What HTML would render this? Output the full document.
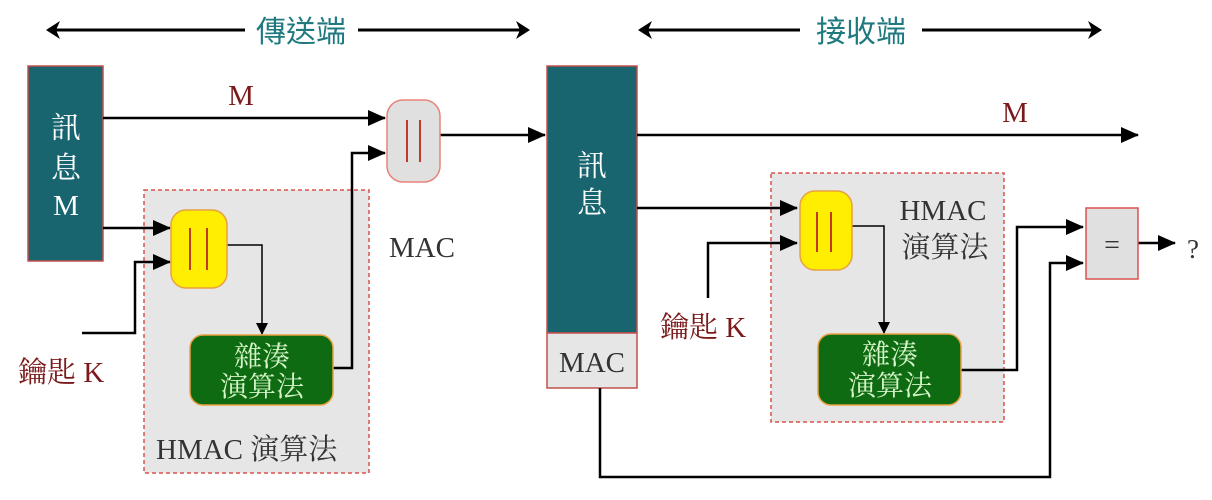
<!DOCTYPE html>
<html><head><meta charset="utf-8"><style>
html,body{margin:0;padding:0;background:#fff;width:1212px;height:500px;overflow:hidden}
svg{display:block}
text{font-family:"Liberation Serif","Noto Serif CJK SC","Noto Sans CJK TC",serif}
.cjk{font-family:"Liberation Serif","Noto Serif CJK SC",serif}
.sans{font-family:"Liberation Sans","Noto Sans CJK TC",sans-serif}
</style></head><body>
<svg width="1212" height="500" viewBox="0 0 1212 500" xmlns="http://www.w3.org/2000/svg">
<defs>
<marker id="a" markerWidth="12" markerHeight="12" refX="11" refY="6" orient="auto" markerUnits="userSpaceOnUse" viewBox="0 0 12 12"><path d="M0,0 L12,6 L0,12 Z" fill="#000"/></marker>
<marker id="b" markerWidth="18" markerHeight="16" refX="17" refY="8" orient="auto" markerUnits="userSpaceOnUse" viewBox="0 0 18 16"><path d="M0,0 L18,8 L0,16 Z" fill="#000"/></marker>
</defs>
<g stroke="#000" stroke-width="3" fill="none">
<line x1="56" y1="30" x2="245" y2="30"/><line x1="358" y1="30" x2="520" y2="30"/>
<line x1="648" y1="30" x2="800" y2="30"/><line x1="922" y1="30" x2="1092" y2="30"/>
</g>
<path d="M46,30 L60,21 L56,30 L60,39 Z M530,30 L516,21 L520,30 L516,39 Z M638,30 L652,21 L648,30 L652,39 Z M1102,30 L1088,21 L1092,30 L1088,39 Z" fill="#000"/>
<text x="301" y="42" font-size="30" fill="#1f7a80" text-anchor="middle" class="sans">傳送端</text>
<text x="861" y="42" font-size="30" fill="#1f7a80" text-anchor="middle" class="sans">接收端</text>

<rect x="144" y="190" width="225" height="283" fill="#e6e6e6" stroke="#d9534f" stroke-dasharray="4,3" stroke-width="1.5"/>
<rect x="28" y="66" width="75" height="195" fill="#19656f" stroke="#c0504d" stroke-width="1.5"/>
<text x="66" y="138" font-size="30" fill="#fff" text-anchor="middle" class="cjk">訊</text>
<text x="66" y="178" font-size="30" fill="#fff" text-anchor="middle" class="cjk">息</text>
<text x="66" y="215" font-size="29" fill="#fff" text-anchor="middle">M</text>
<text x="241" y="105" font-size="29" fill="#7b1a1a" text-anchor="middle">M</text>
<g stroke="#000" stroke-width="2.5" fill="none">
<line x1="103" y1="118" x2="385" y2="118" marker-end="url(#b)"/>
<line x1="103" y1="228" x2="170" y2="228" marker-end="url(#b)"/>
<polyline points="82,333 135,333 135,262 170,262" marker-end="url(#b)"/>
<polyline points="333,368 352,368 352,153 385,153" marker-end="url(#b)"/>
<line x1="440" y1="135" x2="545" y2="135" marker-end="url(#b)"/>
</g>
<polyline points="227,245 262,245 262,334" stroke="#000" stroke-width="1.5" fill="none" marker-end="url(#a)"/>
<rect x="387" y="100" width="53" height="82" rx="16" fill="#e0e0e0" stroke="#e8837a" stroke-width="1.5"/>
<g stroke="#c0392b" stroke-width="2"><line x1="407" y1="120" x2="407" y2="162"/><line x1="420" y1="120" x2="420" y2="162"/></g>
<rect x="171" y="210" width="56" height="78" rx="15" fill="#ffee00" stroke="#e8a040" stroke-width="1.5"/>
<g stroke="#c0392b" stroke-width="2"><line x1="190" y1="228" x2="190" y2="270"/><line x1="207" y1="228" x2="207" y2="270"/></g>
<rect x="190" y="335" width="143" height="70" rx="13" fill="#0e6b12" stroke="#e8a040" stroke-width="1.5"/>
<text x="262" y="366" font-size="28" fill="#d6f5c8" text-anchor="middle" class="cjk">雜湊</text>
<text x="262" y="396" font-size="28" fill="#d6f5c8" text-anchor="middle" class="cjk">演算法</text>
<text x="422" y="257" font-size="29" fill="#333" text-anchor="middle">MAC</text>
<text x="156" y="459" font-size="29" fill="#333">HMAC <tspan class="cjk">演算法</tspan></text>
<text x="18" y="382" font-size="29" fill="#7b1a1a"><tspan class="cjk">鑰匙</tspan> K</text>

<rect x="771" y="173" width="233" height="249" fill="#e6e6e6" stroke="#d9534f" stroke-dasharray="4,3" stroke-width="1.5"/>
<rect x="547" y="66" width="90" height="267" fill="#19656f" stroke="#c0504d" stroke-width="1.5"/>
<rect x="547" y="333" width="90" height="55" fill="#e6e6e6" stroke="#c0504d" stroke-width="1.5"/>
<text x="592" y="176" font-size="30" fill="#fff" text-anchor="middle" class="cjk">訊</text>
<text x="592" y="213" font-size="30" fill="#fff" text-anchor="middle" class="cjk">息</text>
<text x="592" y="372" font-size="29" fill="#333" text-anchor="middle">MAC</text>
<text x="1015" y="122" font-size="29" fill="#7b1a1a" text-anchor="middle">M</text>
<g stroke="#000" stroke-width="2.5" fill="none">
<line x1="637" y1="135" x2="1138" y2="135" marker-end="url(#b)"/>
<line x1="637" y1="208" x2="797" y2="208" marker-end="url(#b)"/>
<polyline points="708,298 708,243 797,243" marker-end="url(#b)"/>
<polyline points="961,370 1017,370 1017,227 1083,227" marker-end="url(#b)"/>
<polyline points="600,388 600,477 1050,477 1050,263 1083,263" marker-end="url(#b)"/>
<line x1="1138" y1="243" x2="1175" y2="243" marker-end="url(#b)"/>
</g>
<polyline points="852,226 884,226 884,333" stroke="#000" stroke-width="1.5" fill="none" marker-end="url(#a)"/>
<rect x="800" y="191" width="52" height="79" rx="15" fill="#ffee00" stroke="#e8a040" stroke-width="1.5"/>
<g stroke="#c0392b" stroke-width="2"><line x1="817" y1="212" x2="817" y2="252"/><line x1="831" y1="212" x2="831" y2="252"/></g>
<rect x="818" y="334" width="143" height="71" rx="13" fill="#0e6b12" stroke="#e8a040" stroke-width="1.5"/>
<text x="890" y="364" font-size="28" fill="#d6f5c8" text-anchor="middle" class="cjk">雜湊</text>
<text x="890" y="395" font-size="28" fill="#d6f5c8" text-anchor="middle" class="cjk">演算法</text>
<text x="943" y="220" font-size="29" fill="#333" text-anchor="middle">HMAC</text>
<text x="945" y="257" font-size="29" fill="#333" text-anchor="middle" class="cjk">演算法</text>
<text x="660" y="337" font-size="29" fill="#7b1a1a"><tspan class="cjk">鑰匙</tspan> K</text>
<rect x="1086" y="208" width="52" height="71" fill="#e0e0e0" stroke="#d9534f" stroke-width="1.5"/>
<text x="1112" y="254" font-size="28" fill="#333" text-anchor="middle">=</text>
<text x="1193" y="258" font-size="27" fill="#333" text-anchor="middle">?</text>
</svg>
</body></html>
